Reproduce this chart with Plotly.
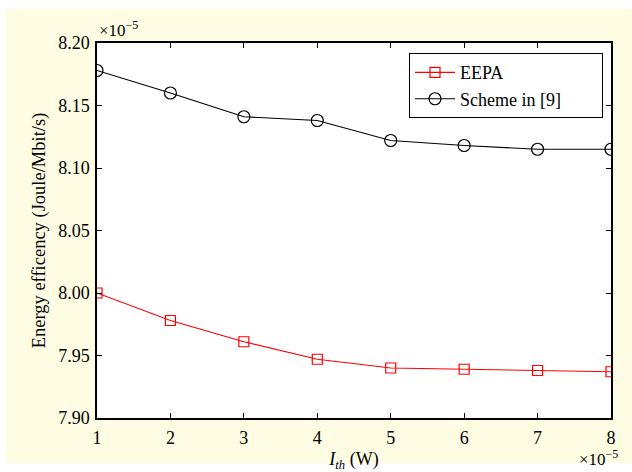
import plotly.graph_objects as go

x_vals = [1, 2, 3, 4, 5, 6, 7, 8]
eepa = [8.000, 7.978, 7.961, 7.947, 7.940, 7.939, 7.938, 7.937]
scheme9 = [8.178, 8.160, 8.141, 8.138, 8.122, 8.118, 8.115, 8.115]
y_ticks = [7.90, 7.95, 8.00, 8.05, 8.10, 8.15, 8.20]
y_tick_text = ["7.90", "7.95", "8.00", "8.05", "8.10", "8.15", "8.20"]
series_names = ["EEPA", "Scheme in [9]"]

FONT = "Liberation Serif"
PAD = "&nbsp;" * 8  # extra room on the right of the legend box

fig = go.Figure()
fig.add_trace(go.Scatter(
    x=x_vals, y=eepa, mode="lines+markers", name=series_names[0],
    line=dict(color="#FF0000", width=1.1),
    marker=dict(symbol="square-open", size=10, color="#FF0000", line=dict(width=1.2)),
))
fig.add_trace(go.Scatter(
    x=x_vals, y=scheme9, mode="lines+markers", name=series_names[1] + PAD,
    line=dict(color="#000000", width=1.1),
    marker=dict(symbol="circle-open", size=12, color="#000000", line=dict(width=1.2)),
))

axis_common = dict(
    showline=True, linecolor="black", linewidth=1.5, mirror="ticks",
    ticks="inside", ticklen=5, tickwidth=1, tickcolor="black",
    showgrid=False, zeroline=False, automargin=False,
    tickfont=dict(family=FONT, size=18, color="black"),
)

fig.update_xaxes(range=[1, 8], tickvals=x_vals, ticklabelstandoff=3, **axis_common,
                 title=dict(text="<i>I<sub>th</sub></i> (W)", font=dict(family=FONT, size=18, color="black"),
                            standoff=10))
fig.update_yaxes(range=[7.90, 8.20], tickvals=y_ticks, ticktext=y_tick_text, ticklabelstandoff=2,
                 **axis_common,
                 title=dict(text="Energy efficency (Joule/Mbit/s)", font=dict(family=FONT, size=18.5, color="black"),
                            standoff=8))

# light yellow figure background
fig.add_shape(type="rect", xref="paper", yref="paper", layer="below",
              x0=-91/514, x1=(632-97)/514, y0=-(463-418)/375, y1=(418-9)/375,
              fillcolor="#FEFDE4", line=dict(width=0))
# white plotting area on top of it
fig.add_shape(type="rect", xref="paper", yref="paper", layer="below",
              x0=0, x1=1, y0=0, y1=1,
              fillcolor="white", line=dict(width=0))

fig.add_annotation(text="×10<sup>−5</sup>", xref="paper", yref="paper",
                   x=0.0, y=1.0, xanchor="left", yanchor="bottom", yshift=1, showarrow=False,
                   font=dict(family=FONT, size=17, color="black"))
fig.add_annotation(text="×10<sup>−5</sup>", xref="paper", yref="paper",
                   x=1.0, y=0.0, xanchor="right", yanchor="top", xshift=9, yshift=-27, showarrow=False,
                   font=dict(family=FONT, size=17, color="black"))

fig.update_layout(
    width=632, height=472,
    margin=dict(l=97, r=21, t=43, b=54, autoexpand=False),
    paper_bgcolor="white", plot_bgcolor="white",
    font=dict(family=FONT, color="black"),
    legend=dict(x=0.607, y=0.973, xanchor="left", yanchor="top",
                bgcolor="white", bordercolor="black", borderwidth=1,
                font=dict(family=FONT, size=18, color="black"),
                tracegroupgap=0, itemwidth=40),
    showlegend=True,
)

fig.write_html("out.html", config={"displayModeBar": False},
               post_script="document.body.style.margin='0';")
